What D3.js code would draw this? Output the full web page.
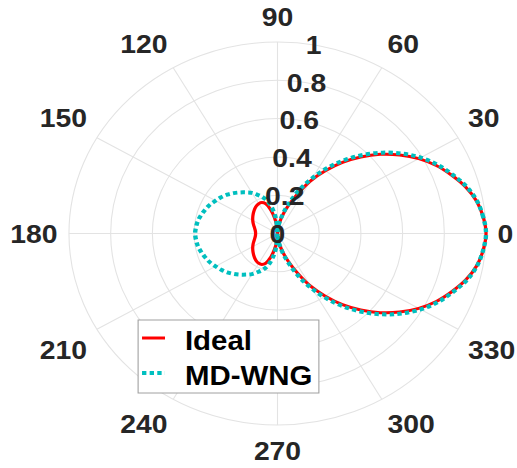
<!DOCTYPE html>
<html>
<head>
<meta charset="utf-8">
<script src="https://cdn.jsdelivr.net/npm/d3@7"></script>
<style>
  body { margin: 0; background: #fff; }
  text { font-family: "Liberation Sans", Arial, sans-serif; font-weight: bold; }
</style>
</head>
<body>
<script>
// angles in degrees (0 = right, counter-clockwise)
const angles = [0,5,10,15,20,25,30,35,40,45,50,55,60,65,70,75,80,85,90,95,100,105,110,115,120,125,130,135,140,145,150,155,160,165,170,175,
                180,185,190,195,200,205,210,215,220,225,230,235,240,245,250,255,260,265,270,275,280,285,290,295,300,305,310,315,320,325,330,335,340,345,350,355];

const ideal = [1.0,0.99,0.97,0.935,0.889,0.84,0.782,0.715,0.643,0.565,0.485,0.40,0.318,0.23,0.16,0.105,0.058,0.022,0.0,0.04,0.085,0.13,0.165,0.178,0.18,0.176,0.169,0.161,0.153,0.145,0.137,0.129,0.121,0.114,0.109,0.106,
               0.105,0.106,0.109,0.114,0.121,0.129,0.137,0.145,0.153,0.161,0.169,0.176,0.18,0.178,0.165,0.13,0.085,0.04,0.0,0.022,0.058,0.105,0.16,0.23,0.318,0.40,0.485,0.565,0.643,0.715,0.782,0.84,0.889,0.935,0.97,0.99];

const mdwng = [1.0,0.99,0.972,0.94,0.895,0.848,0.793,0.728,0.657,0.58,0.50,0.418,0.335,0.255,0.175,0.115,0.065,0.03,0.0,0.07,0.125,0.17,0.20,0.222,0.245,0.262,0.28,0.298,0.315,0.33,0.343,0.357,0.368,0.378,0.387,0.392,
               0.395,0.392,0.387,0.378,0.368,0.357,0.343,0.33,0.315,0.298,0.28,0.262,0.245,0.222,0.20,0.17,0.125,0.07,0.0,0.03,0.065,0.115,0.175,0.255,0.335,0.418,0.50,0.58,0.657,0.728,0.793,0.848,0.895,0.94,0.972,0.99];

const rTicks = [0, 0.2, 0.4, 0.6, 0.8, 1];
const thetaTicks = [0,30,60,90,120,150,180,210,240,270,300,330];
const seriesNames = ["Ideal", "MD-WNG"];

const W = 517, H = 468;
const R = 191.5;          // radius of the r = 1 ring
const sx = 1.089;         // picture is stretched sideways
const rad = d => d * Math.PI / 180;

const svg = d3.select("body").append("svg").attr("width", W).attr("height", H);
svg.append("rect").attr("width", W).attr("height", H).attr("fill", "#fff");

const g = svg.append("g").attr("transform", `translate(277.5,233.5) scale(${sx},1)`);

const r = d3.scaleLinear().domain([0, 1]).range([0, R]);

// grid
g.selectAll("circle.ring").data(rTicks.slice(1)).enter()
  .append("circle").attr("class", "ring")
  .attr("r", d => r(d)).attr("fill", "none")
  .attr("stroke", "#e3e3e3").attr("stroke-width", 1);

g.selectAll("line.spoke").data(thetaTicks).enter()
  .append("line").attr("class", "spoke")
  .attr("x1", 0).attr("y1", 0)
  .attr("x2", d => r(1) * Math.cos(rad(d)))
  .attr("y2", d => -r(1) * Math.sin(rad(d)))
  .attr("stroke", "#e3e3e3").attr("stroke-width", 1);

// curves
const line = d3.lineRadial()
  .angle(d => rad(90 - d[0]))
  .radius(d => r(d[1]))
  .curve(d3.curveCatmullRomClosed);

g.append("path").datum(angles.map((a, i) => [a, ideal[i]]))
  .attr("d", line).attr("fill", "none")
  .attr("stroke", "#ff0000").attr("stroke-width", 3);

g.append("path").datum(angles.map((a, i) => [a, mdwng[i]]))
  .attr("d", line).attr("fill", "none")
  .attr("stroke", "#00bfbf").attr("stroke-width", 4)
  .attr("stroke-dasharray", "4 3");

// theta labels: aligned away from the circle like matlab does
const sgn = v => Math.abs(v) < 1e-6 ? 0 : Math.sign(v);
const tl = g.selectAll("text.theta").data(thetaTicks).enter()
  .append("text").attr("class", "theta")
  .attr("font-size", 26).attr("fill", "#262626")
  .attr("text-anchor", "middle").attr("dy", "0.35em")
  .text(d => d);
tl.each(function(d) {
  const w = this.getComputedTextLength();
  const c = Math.cos(rad(d)), s = Math.sin(rad(d));
  const R1 = 202;
  d3.select(this)
    .attr("x", R1 * c + sgn(c) * w / 2)
    .attr("y", -(R1 * s + sgn(s) * 15));
});

// r labels along 80 degrees
g.selectAll("text.rlab").data(rTicks).enter()
  .append("text").attr("class", "rlab")
  .attr("font-size", 26).attr("fill", "#262626")
  .attr("text-anchor", "middle").attr("dy", "0.35em")
  .attr("x", d => r(d) * Math.cos(rad(80)))
  .attr("y", d => -r(d) * Math.sin(rad(80)))
  .text(d => d);

// legend
const lg = g.append("g").attr("transform", "translate(-128,86.5)");
lg.append("rect").attr("width", 166).attr("height", 73)
  .attr("fill", "#fff").attr("stroke", "#a0a0a0").attr("stroke-width", 1);
const items = [
  { name: seriesNames[0], color: "#ff0000", w: 3, dash: null },
  { name: seriesNames[1], color: "#00bfbf", w: 4, dash: "4 3" }
];
items.forEach((it, i) => {
  const y = 18 + i * 35;
  lg.append("line").attr("x1", 3.6).attr("x2", 24.7).attr("y1", y).attr("y2", y)
    .attr("stroke", it.color).attr("stroke-width", it.w)
    .attr("stroke-dasharray", it.dash);
  lg.append("text").attr("x", 43).attr("y", y + 12)
    .attr("font-size", 27).attr("fill", "#000").text(it.name);
});
</script>
</body>
</html>
